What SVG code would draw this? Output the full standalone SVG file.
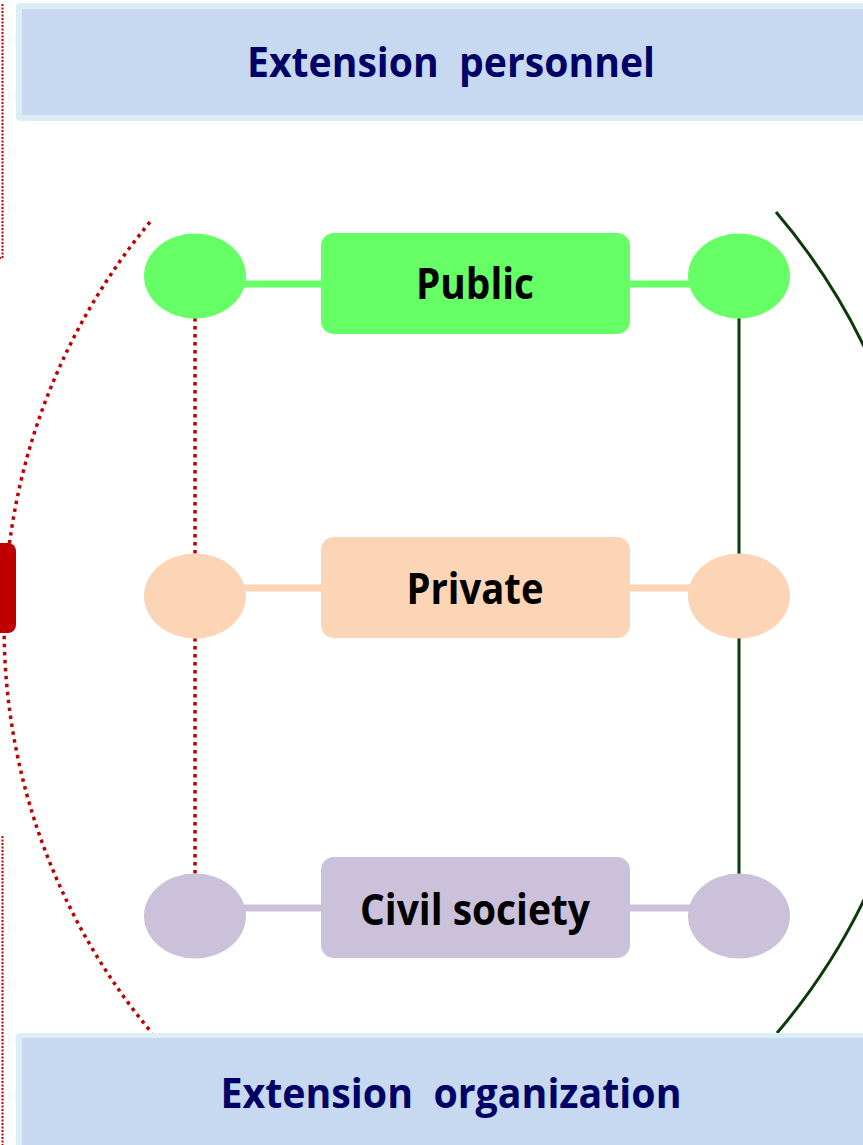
<svg xmlns="http://www.w3.org/2000/svg" width="863" height="1145" viewBox="0 0 863 1145">
<style>
.banner-outer{fill:#DBEEF4;}
.banner-inner{fill:#C6D9F1;}
.banner-text{font-family:"Open Sans","Liberation Sans",sans-serif;font-weight:bold;font-size:42px;fill:#000066;white-space:pre;}
.node-text{font-family:"Open Sans","Liberation Sans",sans-serif;font-weight:bold;font-size:43px;fill:#000000;}
.red-dots{fill:none;stroke:#C00000;stroke-width:3.5;stroke-dasharray:3.5 4.5;}
.green-line{fill:none;stroke:#0B3B0B;stroke-width:3;}
.side-dots{fill:none;stroke:#C00000;stroke-width:2;stroke-dasharray:2 1.5;}
</style>
<rect width="863" height="1145" fill="#FFFFFF"/>

<g id="side-frames">
  <rect x="-100" y="5" width="102.5" height="253" class="side-dots"/>
  <rect x="-100" y="837" width="102.5" height="400" class="side-dots"/>
  <rect x="-20" y="543" width="36" height="90" rx="8" fill="#C00000"/>
</g>

<g id="arcs">
  <path d="M150,222 A633,633 0 0 0 152,1033" class="red-dots"/>
  <path d="M776,212 A633,633 0 0 1 777,1033" class="green-line"/>
</g>

<g id="banner-top">
  <rect x="16" y="3" width="900" height="118" rx="4" class="banner-outer"/>
  <rect x="22" y="9" width="900" height="106" class="banner-inner"/>
  <text x="451" y="77" text-anchor="middle" class="banner-text" xml:space="preserve" textLength="408" lengthAdjust="spacingAndGlyphs">Extension  personnel</text>
</g>

<g id="banner-bottom">
  <rect x="16" y="1033" width="900" height="130" rx="4" class="banner-outer"/>
  <rect x="22" y="1038" width="900" height="130" class="banner-inner"/>
  <text x="451" y="1108" text-anchor="middle" class="banner-text" xml:space="preserve" textLength="461" lengthAdjust="spacingAndGlyphs">Extension  organization</text>
</g>

<g id="connectors">
  <line x1="195" y1="284" x2="322" y2="284" stroke="#66FF66" stroke-width="7"/>
  <line x1="628" y1="284" x2="739" y2="284" stroke="#66FF66" stroke-width="7"/>
  <line x1="195" y1="588" x2="322" y2="588" stroke="#FBD5B5" stroke-width="7"/>
  <line x1="628" y1="588" x2="739" y2="588" stroke="#FBD5B5" stroke-width="7"/>
  <line x1="195" y1="908" x2="322" y2="908" stroke="#CCC1DA" stroke-width="7"/>
  <line x1="628" y1="908" x2="739" y2="908" stroke="#CCC1DA" stroke-width="7"/>
  <line x1="195" y1="318" x2="195" y2="554" class="red-dots"/>
  <line x1="195" y1="638" x2="195" y2="874" class="red-dots"/>
  <line x1="739" y1="318" x2="739" y2="554" class="green-line"/>
  <line x1="739" y1="638" x2="739" y2="874" class="green-line"/>
</g>

<g id="public">
  <ellipse cx="195" cy="276" rx="51" ry="42.5" fill="#66FF66"/>
  <ellipse cx="739" cy="276" rx="51" ry="42.5" fill="#66FF66"/>
  <rect x="321" y="233" width="309" height="101" rx="13" fill="#66FF66"/>
  <text x="475" y="299" text-anchor="middle" class="node-text" textLength="118" lengthAdjust="spacingAndGlyphs">Public</text>
</g>

<g id="private">
  <ellipse cx="195" cy="596" rx="51" ry="42.5" fill="#FBD5B5"/>
  <ellipse cx="739" cy="596" rx="51" ry="42.5" fill="#FBD5B5"/>
  <rect x="321" y="537" width="309" height="101" rx="13" fill="#FBD5B5"/>
  <text x="475" y="604" text-anchor="middle" class="node-text" textLength="137" lengthAdjust="spacingAndGlyphs">Private</text>
</g>

<g id="civil-society">
  <ellipse cx="195" cy="916" rx="51" ry="42.5" fill="#CCC1DA"/>
  <ellipse cx="739" cy="916" rx="51" ry="42.5" fill="#CCC1DA"/>
  <rect x="321" y="857" width="309" height="101" rx="13" fill="#CCC1DA"/>
  <text x="475" y="925" text-anchor="middle" class="node-text" textLength="230" lengthAdjust="spacingAndGlyphs">Civil society</text>
</g>
</svg>
